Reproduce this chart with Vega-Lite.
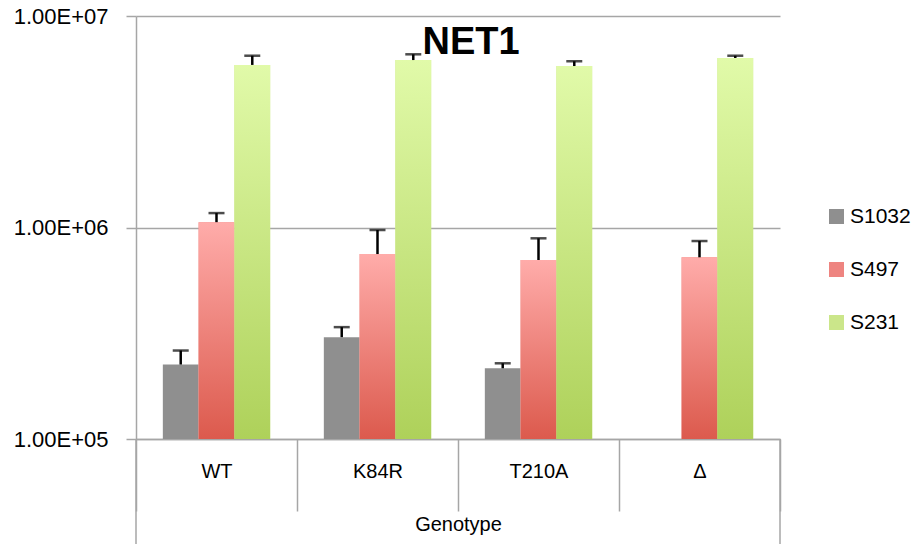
{
  "$schema": "https://vega.github.io/schema/vega-lite/v6.json",
  "width": 644,
  "height": 423,
  "autosize": {"type": "none"},
  "padding": {"left": 136, "top": 16, "right": 135, "bottom": 105},
  "background": "white",
  "config": {
    "font": "Liberation Sans",
    "view": {"stroke": null}
  },
  "data": {
    "values": [
      {"Genotype": "WT", "Series": "S1032", "value": 225000, "upper": 262000},
      {"Genotype": "WT", "Series": "S497", "value": 1060000, "upper": 1170000},
      {"Genotype": "WT", "Series": "S231", "value": 5870000, "upper": 6490000},
      {"Genotype": "K84R", "Series": "S1032", "value": 303000, "upper": 338000},
      {"Genotype": "K84R", "Series": "S497", "value": 749000, "upper": 973000},
      {"Genotype": "K84R", "Series": "S231", "value": 6190000, "upper": 6590000},
      {"Genotype": "T210A", "Series": "S1032", "value": 216000, "upper": 228000},
      {"Genotype": "T210A", "Series": "S497", "value": 702000, "upper": 889000},
      {"Genotype": "T210A", "Series": "S231", "value": 5800000, "upper": 6110000},
      {"Genotype": "Δ", "Series": "S497", "value": 723000, "upper": 863000},
      {"Genotype": "Δ", "Series": "S231", "value": 6330000, "upper": 6490000}
    ]
  },
  "encoding": {
    "x": {
      "field": "Genotype",
      "type": "nominal",
      "sort": ["WT", "K84R", "T210A", "Δ"],
      "scale": {"domain": ["WT", "K84R", "T210A", "Δ"], "paddingInner": 0, "paddingOuter": 0},
      "axis": {
        "title": "Genotype",
        "titleFontSize": 20,
        "titleFontWeight": "normal",
        "titleColor": "black",
        "titlePadding": 3,
        "labelFontSize": 20,
        "labelColor": "black",
        "labelAngle": 0,
        "labelPadding": -50,
        "tickBand": "extent",
        "tickSize": 72,
        "tickColor": "#A6A6A6",
        "tickWidth": 1.5,
        "domainColor": "#A6A6A6",
        "domainWidth": 1.5,
        "grid": false
      }
    },
    "xOffset": {
      "field": "Series",
      "type": "nominal",
      "scale": {"domain": ["S1032", "S497", "S231"], "paddingInner": 0, "paddingOuter": 0.75}
    }
  },
  "layer": [
    {
      "mark": {"type": "bar"},
      "encoding": {
        "y": {
          "field": "value",
          "type": "quantitative",
          "scale": {"type": "log", "domain": [100000, 10000000]},
          "axis": {
            "title": null,
            "values": [100000, 1000000, 10000000],
            "labelExpr": "replace(upper(format(datum.value, '.2e')), '+', '+0')",
            "labelFontSize": 22,
            "labelColor": "black",
            "labelPadding": 18,
            "tickSize": 10,
            "tickColor": "#A6A6A6",
            "tickWidth": 1.5,
            "domainColor": "#A6A6A6",
            "domainWidth": 1.5,
            "gridColor": "#A6A6A6",
            "gridWidth": 1.5
          }
        },
        "y2": {"datum": 100000},
        "color": {
          "field": "Series",
          "type": "nominal",
          "scale": {"domain": ["S1032", "S497", "S231"], "range": ["#8F8F8F", "#EE8480", "#CBE68A"]},
          "legend": {
            "title": null,
            "orient": "none",
            "legendX": 690,
            "legendY": 190,
            "symbolType": "square",
            "symbolSize": 225,
            "symbolStrokeWidth": 0,
            "labelFontSize": 21,
            "labelColor": "black",
            "labelOffset": 3,
            "rowPadding": 31,
            "encode": {
              "symbols": {
                "update": {
                  "fill": [
                    {"test": "datum.value === 'S497'", "value": {"gradient": "linear", "x1": 0, "y1": 0, "x2": 0, "y2": 1, "stops": [{"offset": 0, "color": "#FFACAA"}, {"offset": 1, "color": "#DC5A4D"}]}},
                    {"test": "datum.value === 'S231'", "value": {"gradient": "linear", "x1": 0, "y1": 0, "x2": 0, "y2": 1, "stops": [{"offset": 0, "color": "#E1FAA9"}, {"offset": 1, "color": "#AED15A"}]}},
                    {"value": "#8F8F8F"}
                  ]
                }
              }
            }
          }
        }
      }
    },
    {
      "transform": [{"filter": "datum.Series === 'S497'"}],
      "mark": {
        "type": "bar",
        "fill": {
          "gradient": "linear", "x1": 0, "y1": 0, "x2": 0, "y2": 1,
          "stops": [{"offset": 0, "color": "#FFACAA"}, {"offset": 1, "color": "#DC5A4D"}]
        }
      },
      "encoding": {"y": {"field": "value", "type": "quantitative"}, "y2": {"datum": 100000}}
    },
    {
      "transform": [{"filter": "datum.Series === 'S231'"}],
      "mark": {
        "type": "bar",
        "fill": {
          "gradient": "linear", "x1": 0, "y1": 0, "x2": 0, "y2": 1,
          "stops": [{"offset": 0, "color": "#E1FAA9"}, {"offset": 1, "color": "#AED15A"}]
        }
      },
      "encoding": {"y": {"field": "value", "type": "quantitative"}, "y2": {"datum": 100000}}
    },
    {
      "mark": {"type": "rule", "color": "black", "strokeWidth": 2.5},
      "encoding": {
        "y": {"field": "value", "type": "quantitative"},
        "y2": {"field": "upper"}
      }
    },
    {
      "mark": {"type": "tick", "orient": "horizontal", "color": "black", "size": 16, "thickness": 2.5},
      "encoding": {"y": {"field": "upper", "type": "quantitative"}}
    },
    {
      "data": {"values": [{"edge": "left"}]},
      "mark": {"type": "rule", "color": "#A6A6A6", "strokeWidth": 1.5},
      "encoding": {
        "xOffset": null,
        "x": {"datum": "WT", "bandPosition": 0},
        "y": {"datum": 100000},
        "y2": {"datum": 31000}
      }
    },
    {
      "data": {"values": [{"edge": "right"}]},
      "mark": {"type": "rule", "color": "#A6A6A6", "strokeWidth": 1.5},
      "encoding": {
        "xOffset": null,
        "x": {"datum": "Δ", "bandPosition": 1},
        "y": {"datum": 100000},
        "y2": {"datum": 31000}
      }
    },
    {
      "data": {"values": [{"label": "NET1"}]},
      "mark": {
        "type": "text",
        "font": "Liberation Sans",
        "fontSize": 38,
        "fontWeight": "bold",
        "color": "black",
        "align": "center",
        "baseline": "alphabetic",
        "dx": 13,
        "dy": 38
      },
      "encoding": {
        "xOffset": null,
        "x": {"datum": "K84R", "bandPosition": 1},
        "y": {"datum": 10000000},
        "text": {"field": "label"}
      }
    }
  ]
}
